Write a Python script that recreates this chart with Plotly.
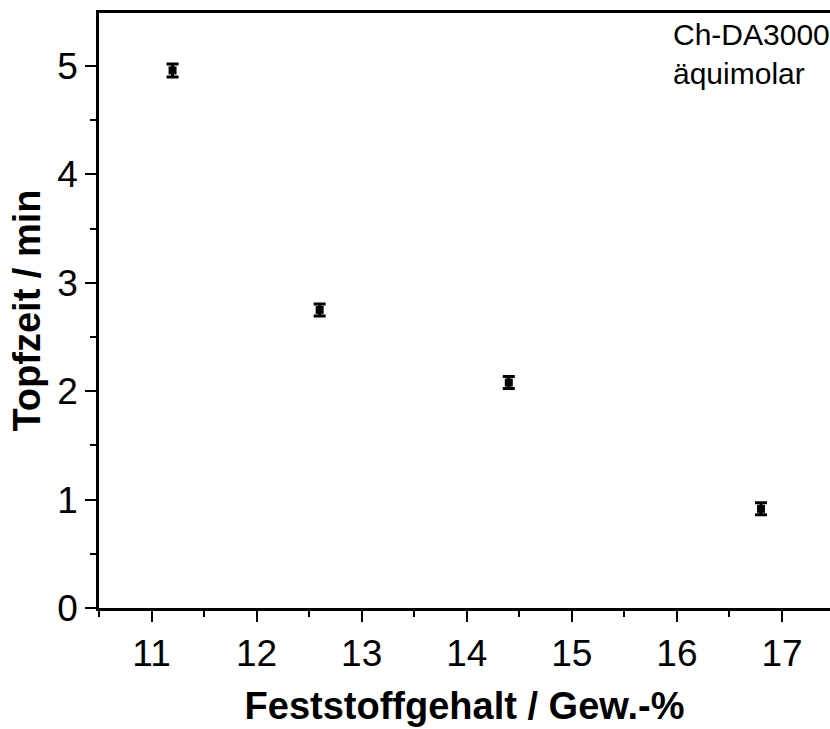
import plotly.graph_objects as go

# Solid content vs. pot life (Ch-DA3000, equimolar)
feststoff = [11.2, 12.6, 14.4, 16.8]          # Gew.-%
topfzeit = [4.96, 2.75, 2.08, 0.915]           # min
topfzeit_err = [0.06, 0.055, 0.055, 0.055]     # min

x_ticks = [11, 12, 13, 14, 15, 16, 17]
y_ticks = [0, 1, 2, 3, 4, 5]

FONT = "Arial, Liberation Sans, sans-serif"

fig = go.Figure()
fig.add_trace(go.Scatter(
    x=feststoff,
    y=topfzeit,
    mode="markers",
    marker=dict(symbol="square", size=8, color="black", line=dict(width=0)),
    error_y=dict(type="data", array=topfzeit_err, visible=True,
                 color="black", thickness=3, width=6),
    showlegend=False,
))

fig.add_annotation(
    x=0.782, y=0.995, xref="paper", yref="paper",
    xanchor="left", yanchor="top", align="left",
    text="Ch-DA3000<br>äquimolar", showarrow=False,
    font=dict(family=FONT, size=30, color="black"),
)

axis_common = dict(
    showgrid=False, zeroline=False,
    showline=True, linecolor="black", linewidth=2.5,
    ticks="outside", ticklen=11, tickwidth=2.2, tickcolor="black",
    tickfont=dict(family=FONT, size=37, color="black"),
    minor=dict(ticks="outside", ticklen=6, tickwidth=2.2, tickcolor="black", dtick=0.5),
)

fig.update_xaxes(
    **axis_common,
    range=[10.5, 17.457], tickvals=x_ticks, mirror=True,
    title=dict(text="<b>Feststoffgehalt / Gew.-%</b>",
               font=dict(family=FONT, size=38, color="black"), standoff=20),
)
fig.update_yaxes(
    **axis_common,
    range=[0, 5.49], tickvals=y_ticks,
    title=dict(text="<b>Topfzeit / min</b>",
               font=dict(family=FONT, size=38, color="black"), standoff=5),
)

fig.update_layout(
    width=830, height=729,
    margin=dict(l=99, r=0, t=13, b=121),
    plot_bgcolor="white", paper_bgcolor="white",
)

fig.write_html("out.html")
